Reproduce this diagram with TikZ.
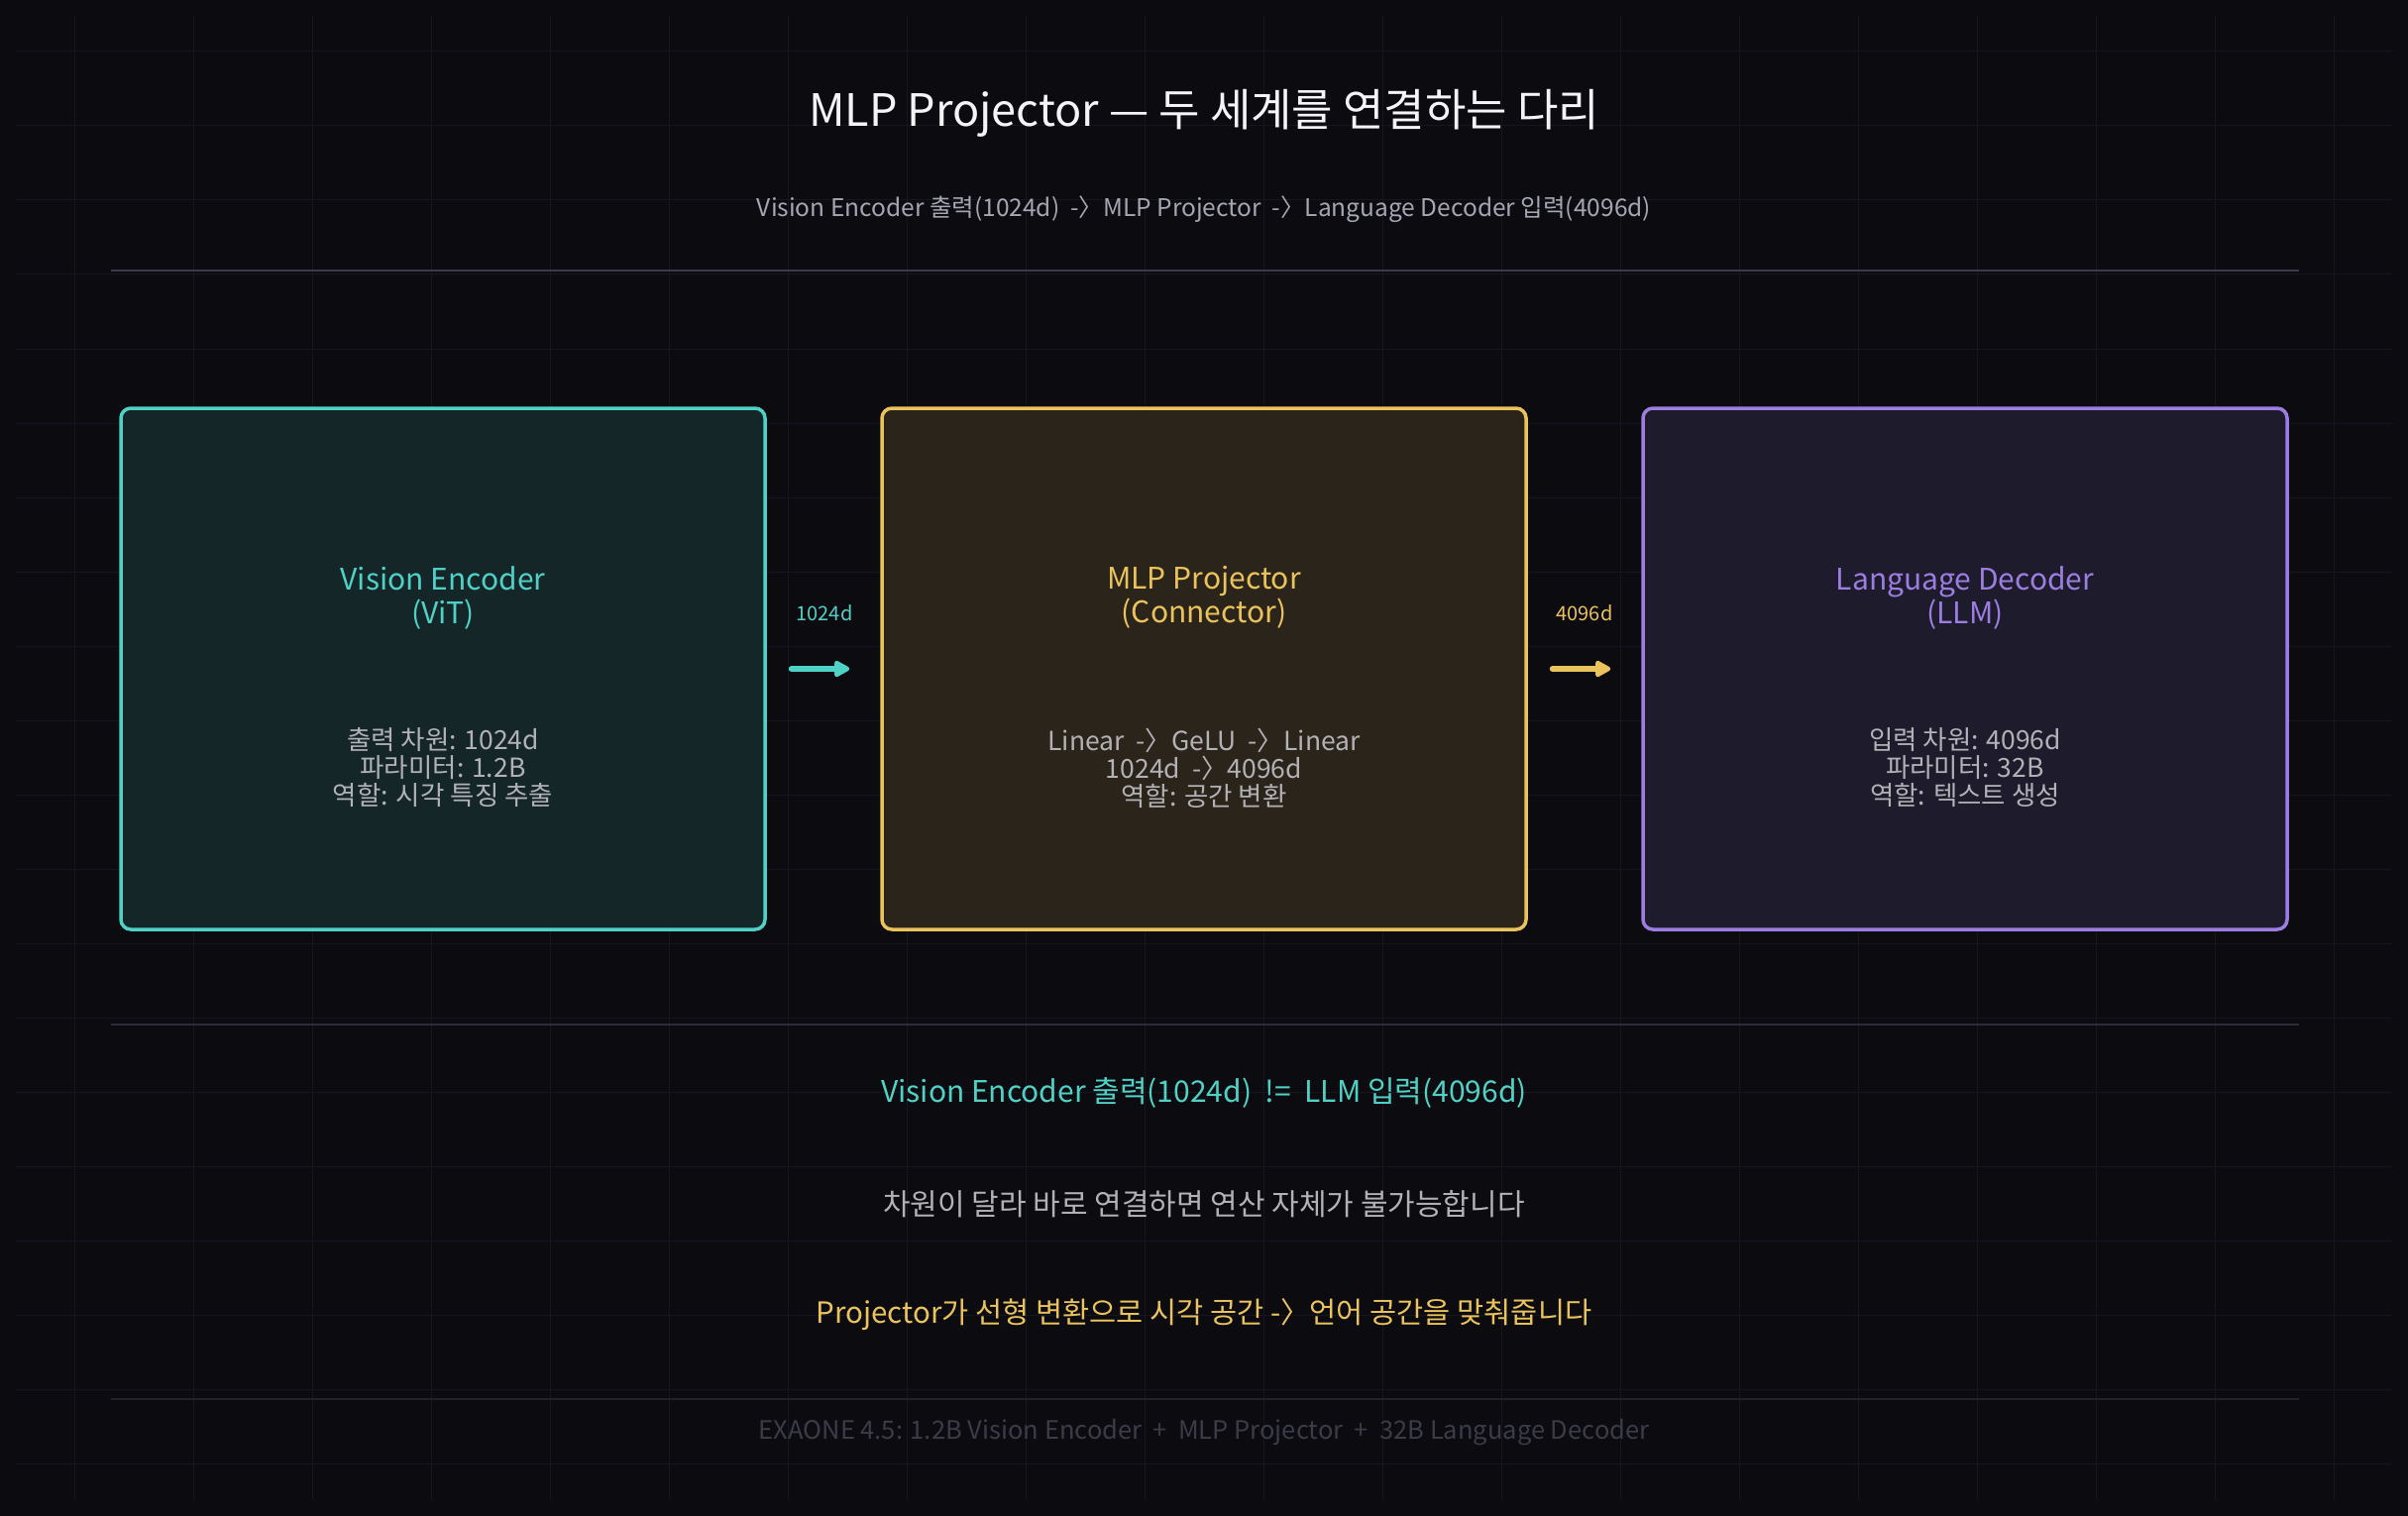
\documentclass[tikz,border=0pt]{standalone}
\usepackage{fontspec}
\setmainfont{Noto Sans CJK KR}
\usetikzlibrary{arrows.meta,calc}
\definecolor{bgc}{HTML}{0B0B10}
\definecolor{gridc}{HTML}{16171E}
\definecolor{tealc}{HTML}{4FD1C5}
\definecolor{tealf}{HTML}{152629}
\definecolor{yelc}{HTML}{EBC35C}
\definecolor{yelf}{HTML}{2A241A}
\definecolor{purc}{HTML}{9C7DE2}
\definecolor{purf}{HTML}{1E1B2D}
\definecolor{titlec}{HTML}{F4F4F6}
\definecolor{subc}{HTML}{A6A6B2}
\definecolor{bodyc}{HTML}{B2B2B6}
\definecolor{footc}{HTML}{3C3C48}
\definecolor{sepc}{HTML}{2C2C3A}
\definecolor{septop}{HTML}{3A3A4C}
\tikzset{
  panel/.style={draw=#1, line width=3.5pt, rounded corners=10pt, minimum width=650pt, minimum height=526pt, inner sep=0pt},
  paneltitle/.style={text=#1, align=center, font=\fontsize{30}{34}\selectfont, inner sep=0pt},
  panelbody/.style={text=bodyc, align=center, font=\fontsize{26.5}{28}\selectfont, inner sep=0pt},
  flowarrow/.style={draw=#1, line width=6pt, line cap=round, -{Triangle[length=18pt,width=18pt,round]}, shorten <=25pt, shorten >=31pt},
  flowlabel/.style={text=#1, font=\fontsize{20}{24}\selectfont, inner sep=0pt},
  sepline/.style={draw=sepc, line width=2pt},
  caption/.style={inner sep=0pt, font=\fontsize{30}{34}\selectfont}
}
\begin{document}
\begin{tikzpicture}[x=1pt,y=-1pt]
\useasboundingbox[fill=bgc] (0,0) rectangle (2430,1530);
% grid
\foreach \gx in {75,195,...,2355} \draw[gridc, line width=1pt] (\gx,16) -- (\gx,1514);
\foreach \gy in {52,127,...,1480} \draw[gridc, line width=1pt] (16,\gy) -- (2414,\gy);
% header
\node[text=titlec, font=\fontsize{45}{50}\selectfont, inner sep=0pt] (title) at (1215,114) {MLP Projector — 두 세계를 연결하는 다리};
\node[text=subc, font=\fontsize{24.5}{28}\selectfont, inner sep=0pt] (subtitle) at (1215,211) {Vision Encoder 출력(1024d)\ \ -〉MLP Projector\ \ -〉Language Decoder 입력(4096d)};
\coordinate (s1l) at (112,273); \coordinate (s1r) at (2320,273);
\draw[sepline, draw=septop] (s1l) -- (s1r);
% panels
\node[panel=tealc, fill=tealf] (ve) at (447,675) {};
\node[panel=yelc, fill=yelf] (mp) at (1215,675) {};
\node[panel=purc, fill=purf] (ld) at (1983,675) {};
\node[paneltitle=tealc] (vet) at ($(ve.center)+(0,-72)$) {Vision Encoder\\(ViT)};
\node[panelbody] (veb) at ($(ve.center)+(0,100)$) {출력 차원: 1024d\\파라미터: 1.2B\\역할: 시각 특징 추출};
\node[paneltitle=yelc] (mpt) at ($(mp.center)+(0,-72)$) {MLP Projector\\(Connector)};
\node[panelbody] (mpb) at ($(mp.center)+(0,100)$) {Linear\ \ -〉GeLU\ \ -〉Linear\\1024d\ \ -〉4096d\\역할: 공간 변환};
\node[paneltitle=purc] (ldt) at ($(ld.center)+(0,-72)$) {Language Decoder\\(LLM)};
\node[panelbody] (ldb) at ($(ld.center)+(0,100)$) {입력 차원: 4096d\\파라미터: 32B\\역할: 텍스트 생성};
% arrows
\draw[flowarrow=tealc] (ve.east) -- (mp.west);
\draw[flowarrow=yelc] (mp.east) -- (ld.west);
\node[flowlabel=tealc] (l1) at (832,619) {1024d};
\node[flowlabel=yelc] (l2) at (1599,619) {4096d};
% lower section
\coordinate (s2l) at (112,1034); \coordinate (s2r) at (2320,1034);
\draw[sepline] (s2l) -- (s2r);
\node[caption, text=tealc] (c1) at (1215,1103) {Vision Encoder 출력(1024d)\ \ !=\ \ LLM 입력(4096d)};
\node[caption, text=bodyc] (c2) at (1215,1215) {차원이 달라 바로 연결하면 연산 자체가 불가능합니다};
\node[caption, text=yelc, font=\fontsize{29.5}{34}\selectfont] (c3) at (1215,1327) {Projector가 선형 변환으로 시각 공간 -〉언어 공간을 맞춰줍니다};
\coordinate (s3l) at (112,1412); \coordinate (s3r) at (2320,1412);
\draw[sepline, draw=sepc!70!bgc] (s3l) -- (s3r);
\node[text=footc, font=\fontsize{25.5}{30}\selectfont, inner sep=0pt] (foot) at (1215,1446) {EXAONE 4.5: 1.2B Vision Encoder\ \ +\ \ MLP Projector\ \ +\ \ 32B Language Decoder};
\end{tikzpicture}
\end{document}
